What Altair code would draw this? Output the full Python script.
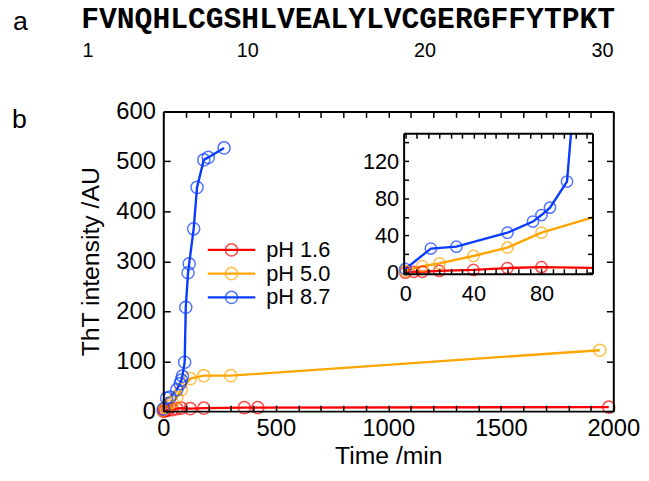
import altair as alt
import pandas as pd

# ---------------- data ----------------
series_names = ["pH 1.6", "pH 5.0", "pH 8.7"]
series_colors = ["#ff0000", "#ffa500", "#0a3cff"]

red_t = [0, 5, 10, 20, 40, 60, 80, 120, 180, 360, 420, 1980]
red_v = [0, 1, 1, 2, 3, 5, 6, 5, 6, 7, 7, 8]
orange_t = [0, 10, 20, 40, 60, 80, 120, 180, 300, 1940]
orange_v = [2, 7, 10, 18, 27, 43, 65, 71, 71, 122]
blue_t = [0, 15, 30, 60, 75, 80, 85, 95, 100, 110, 115, 135, 150, 180, 200, 270]
blue_v = [4, 26, 28, 43, 55, 62, 70, 98, 208, 277, 295, 365, 448, 503, 508, 527]

sequence = "FVNQHLCGSHLVEALYLVCGERGFFYTPKT"
residue_marks = [1, 10, 20, 30]

main_x_ticks = [0, 500, 1000, 1500, 2000]
main_x_minor = list(range(0, 2001, 100))
main_y_ticks = [0, 100, 200, 300, 400, 500, 600]
inset_x_ticks = [0, 40, 80]
inset_x_minor = [i * 20 / 3 for i in range(17)]
inset_y_ticks = [0, 40, 80, 120]
inset_y_minor = list(range(0, 141, 20))

rows = []
for name, ts, vs in zip(series_names, [red_t, orange_t, blue_t], [red_v, orange_v, blue_v]):
    for t, v in zip(ts, vs):
        rows.append({"series": name, "t": t, "v": v})
df = pd.DataFrame(rows)
legend_df = pd.DataFrame({"series": series_names})
res_df = pd.DataFrame({"res": residue_marks, "lab": [str(r) for r in residue_marks]})

# ---------------- layout ----------------
W, H = 455, 303
IX0, IX1, IY0, IY1 = 243, 434, 164, 22   # inset frame inside plot area (px)
FONT = "Liberation Sans"
# white masks (inset units) that hide inset lines leaving the inset frame
mask_df = pd.DataFrame({"x0": [110, -1], "x1": [135, 135], "y0": [-1, 150], "y1": [150, 215]})

color = alt.Color("series:N", scale=alt.Scale(domain=series_names, range=series_colors), legend=None)

MX = alt.Scale(domain=[0, 2000], range=[0, W], nice=False, zero=False)
MY = alt.Scale(domain=[0, 600], range=[H, 0], nice=False, zero=False)
IXs = alt.Scale(domain=[-1, 110], range=[IX0, IX1], nice=False, zero=False)
IYs = alt.Scale(domain=[-1, 150], range=[IY0, IY1], nice=False, zero=False)

base = alt.Chart(df)

ax_common = dict(grid=False, labelFlush=False, labelOverlap=False, domainColor="black",
                 tickColor="black", labelColor="black", domainWidth=2, tickWidth=1.5, zindex=1)

# main data
main_line = base.mark_line(strokeWidth=2.4).encode(
    x=alt.X("t:Q", scale=MX, axis=alt.Axis(values=main_x_ticks, format="d", tickSize=0, labelFontSize=24,
                                           labelPadding=6, title="Time /min", titleFontSize=25,
                                           titleFontWeight="normal", titlePadding=3, **ax_common)),
    y=alt.Y("v:Q", scale=MY, axis=alt.Axis(values=main_y_ticks, tickSize=0, labelFontSize=24,
                                           labelPadding=8, title="ThT intensity /AU", titleFontSize=25,
                                           titleFontWeight="normal", titlePadding=12, **ax_common)),
    color=color, detail="series:N")
main_pts = base.mark_point(filled=False, size=150, strokeWidth=1.5).encode(
    x=alt.X("t:Q", scale=MX, axis=None), y=alt.Y("v:Q", scale=MY, axis=None), color=color)

# main inward ticks (bottom / left)
main_ticks1 = base.mark_point(opacity=0).encode(
    x=alt.X("t:Q", scale=MX, axis=alt.Axis(orient="top", offset=-H, values=main_x_minor, tickSize=6,
                                           labels=False, domain=False, title=None, **ax_common)),
    y=alt.Y("v:Q", scale=MY, axis=alt.Axis(orient="right", offset=-W, values=main_y_ticks, tickSize=7,
                                           labels=False, domain=False, title=None, **ax_common)))
# main top / right frame with inward ticks
main_ticks2 = base.mark_point(opacity=0).encode(
    x=alt.X("t:Q", scale=MX, axis=alt.Axis(orient="bottom", offset=-H, values=main_x_minor, tickSize=6,
                                           labels=False, domain=True, title=None, **ax_common)),
    y=alt.Y("v:Q", scale=MY, axis=alt.Axis(orient="left", offset=-W, values=main_y_ticks, tickSize=7,
                                           labels=False, domain=True, title=None, **ax_common)))

# inset data
inset_line = base.transform_filter("datum.t <= 120 && datum.v <= 210").mark_line(strokeWidth=2.4).encode(
    x=alt.X("t:Q", scale=IXs, axis=alt.Axis(orient="bottom", offset=-(H - IY0), values=inset_x_ticks,
                                            tickSize=0, labelFontSize=22, labelPadding=10, title=None,
                                            **ax_common)),
    y=alt.Y("v:Q", scale=IYs, axis=alt.Axis(orient="left", offset=-IX0, values=inset_y_ticks,
                                            tickSize=0, labelFontSize=22, labelPadding=5, title=None,
                                            **ax_common)),
    color=color, detail="series:N")
inset_pts = base.transform_filter("datum.t <= 110 && datum.v <= 150").mark_point(
    filled=False, size=130, strokeWidth=1.5).encode(
    x=alt.X("t:Q", scale=IXs, axis=None), y=alt.Y("v:Q", scale=IYs, axis=None), color=color)
mask = alt.Chart(mask_df).mark_rect(color="white").encode(
    x=alt.X("x0:Q", scale=IXs, axis=None), x2="x1:Q",
    y=alt.Y("y0:Q", scale=IYs, axis=None), y2="y1:Q")
inset_ticks1 = base.mark_point(opacity=0).encode(
    x=alt.X("t:Q", scale=IXs, axis=alt.Axis(orient="top", offset=-IY0, values=inset_x_minor, tickSize=5,
                                            labels=False, domain=False, title=None, **ax_common)),
    y=alt.Y("v:Q", scale=IYs, axis=alt.Axis(orient="right", offset=-(W - IX0), values=inset_y_minor,
                                            tickSize=5, labels=False, domain=False, title=None, **ax_common)))
inset_ticks2 = base.mark_point(opacity=0).encode(
    x=alt.X("t:Q", scale=IXs, axis=alt.Axis(orient="bottom", offset=-(H - IY1), values=inset_x_minor,
                                            tickSize=5, labels=False, domain=True, title=None, **ax_common)),
    y=alt.Y("v:Q", scale=IYs, axis=alt.Axis(orient="left", offset=-IX1, values=inset_y_minor,
                                            tickSize=5, labels=False, domain=True, title=None, **ax_common)))

# legend (drawn as marks)
LY = alt.Scale(type="point", domain=series_names, range=[140, 188], padding=0)
leg = alt.Chart(legend_df)
leg_line = leg.mark_rule(strokeWidth=2.4).encode(
    x=alt.value(45), x2=alt.value(93), y=alt.Y("series:N", scale=LY, axis=None), color=color)
leg_pt = leg.mark_point(filled=False, size=150, strokeWidth=1.5).encode(
    x=alt.value(69), y=alt.Y("series:N", scale=LY, axis=None), color=color)
leg_txt = leg.mark_text(align="left", baseline="middle", fontSize=22, font=FONT, color="black").encode(
    x=alt.value(104), y=alt.Y("series:N", scale=LY, axis=None), text="series:N")

# header (panel a) and panel letters
hdr = alt.Chart(pd.DataFrame({"s": [sequence]}))
seq_txt = hdr.mark_text(align="left", baseline="alphabetic", fontSize=30, font="Liberation Mono",
                        fontWeight="bold", color="black").encode(
    x=alt.value(-83), y=alt.value(-84), text="s:N")
a_txt = hdr.mark_text(text="a", align="left", baseline="alphabetic", fontSize=27, font=FONT,
                      color="black").encode(x=alt.value(-152), y=alt.value(-82))
b_txt = hdr.mark_text(text="b", align="left", baseline="alphabetic", fontSize=27, font=FONT,
                      color="black").encode(x=alt.value(-153), y=alt.value(17))
res_txt = alt.Chart(res_df).mark_text(align="center", baseline="alphabetic", fontSize=20, font=FONT,
                                      color="black").encode(
    x=alt.X("res:Q", scale=alt.Scale(domain=[1, 30], range=[-76, 444], nice=False, zero=False), axis=None),
    y=alt.value(-55), text="lab:N")

chart = alt.layer(
    main_line, main_pts, inset_line, inset_pts, mask,
    main_ticks1, main_ticks2, inset_ticks1, inset_ticks2,
    leg_line, leg_pt, leg_txt, seq_txt, a_txt, b_txt, res_txt,
).resolve_scale(x="independent", y="independent").resolve_axis(x="independent", y="independent").properties(
    width=W, height=H,
    autosize=alt.AutoSizeParams(type="none"),
    padding={"left": 157, "top": 102, "right": 28, "bottom": 64},
).configure_view(strokeWidth=0).configure_axis(labelFont=FONT, titleFont=FONT, titleColor="black")

chart.save("out.html", embed_options={"renderer": "svg", "actions": False})
